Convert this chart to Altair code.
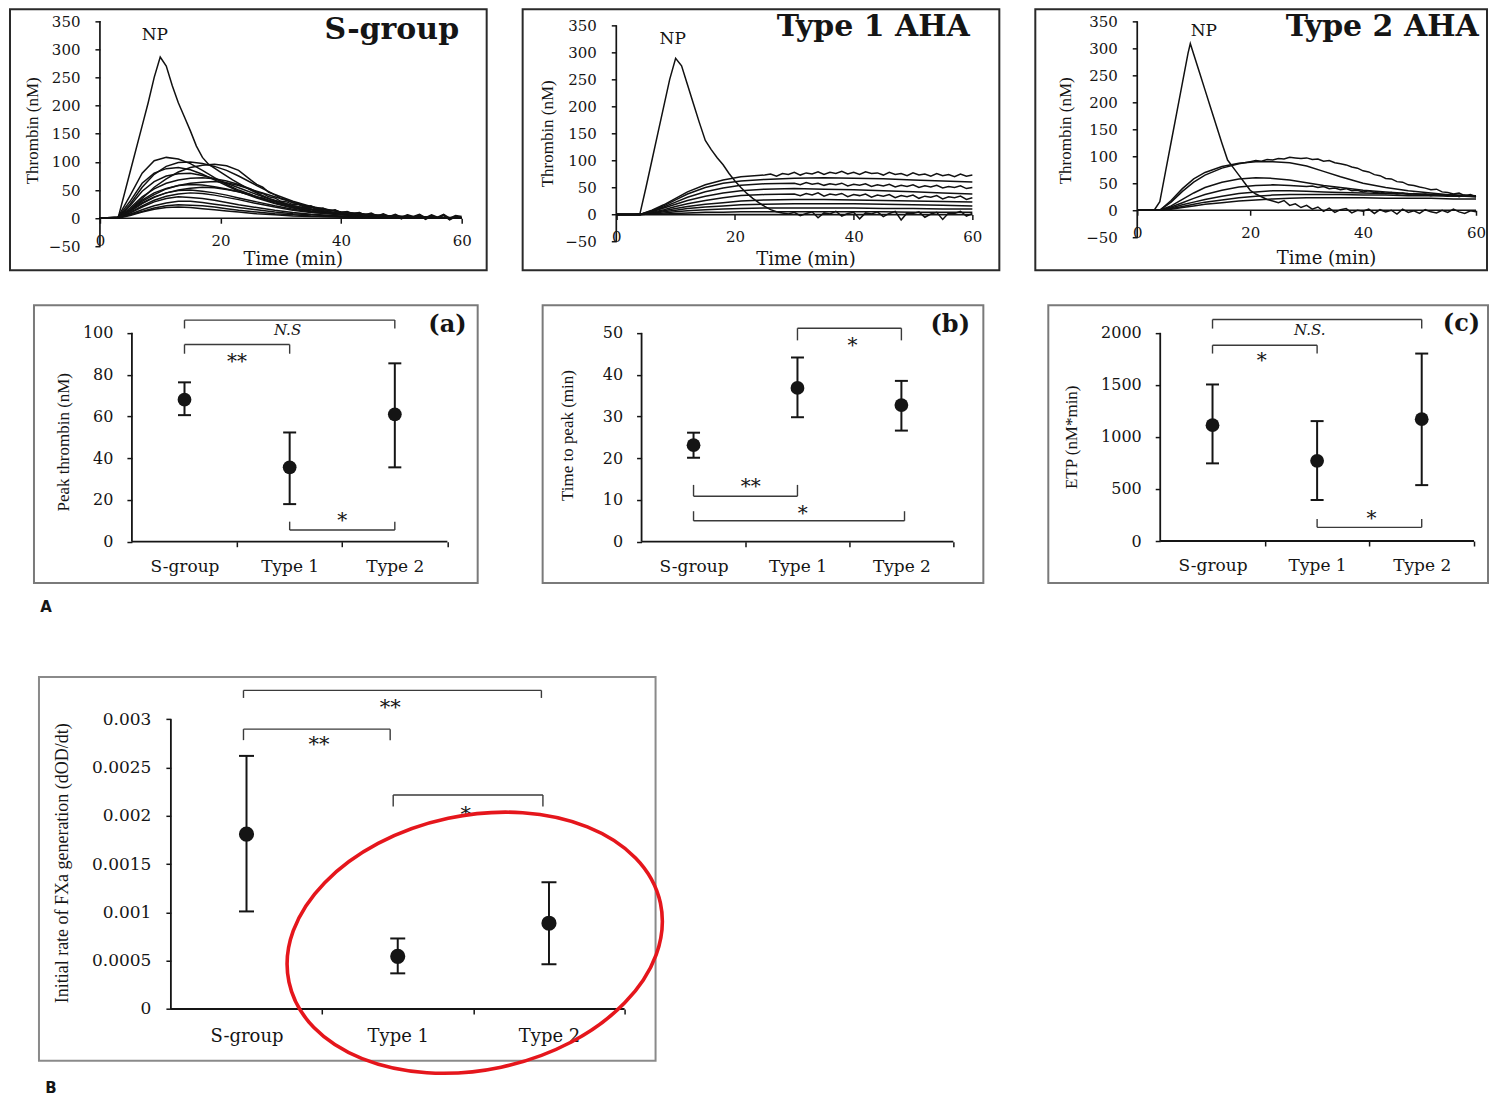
import altair as alt
import pandas as pd

SERIF = "DejaVu Serif"
TIMES = "Liberation Serif"
SANS = "DejaVu Sans"
INK = "#151515"

# ============================================================ DATA
# ---- thrombin generation curves: time (min) -> thrombin (nM) ----
# S-group
S_NP_T = [0, 3, 5, 7, 8, 9, 10, 11, 12, 13, 14, 15, 16, 17, 18, 20, 22, 25, 28, 32, 36, 40, 45, 50, 55, 60]
S_NP_V = [0, 0, 82, 164, 205, 250, 286, 270, 235, 205, 180, 155, 128, 108, 96, 82, 68, 50, 35, 22, 14, 8, 5, 3, 2, 1]
S_GRID_T = [0, 3, 5, 7, 9, 11, 13, 15, 17, 19, 21, 23, 26, 29, 32, 35, 40, 45, 50, 55, 60]
S_GRID_V = [
    [0, 2, 40, 80, 102, 108, 105, 97, 85, 72, 60, 50, 38, 27, 19, 13, 7, 4, 2, 1, 0],
    [0, 1, 25, 55, 78, 92, 99, 100, 97, 92, 85, 75, 58, 42, 30, 21, 11, 6, 3, 1, 0],
    [0, 2, 30, 62, 80, 88, 90, 86, 78, 68, 58, 48, 36, 26, 18, 12, 7, 4, 2, 1, 0],
    [0, 1, 22, 48, 65, 75, 79, 80, 76, 70, 62, 54, 42, 31, 22, 15, 8, 4, 2, 1, 0],
    [0, 1, 14, 30, 42, 52, 58, 62, 64, 65, 63, 58, 48, 38, 28, 20, 11, 6, 3, 1, 0],
    [0, 1, 15, 32, 45, 53, 58, 60, 59, 56, 52, 47, 38, 29, 21, 15, 8, 4, 2, 1, 0],
    [0, 1, 12, 27, 38, 45, 49, 50, 48, 45, 41, 36, 29, 22, 16, 11, 6, 3, 2, 1, 0],
    [0, 1, 10, 22, 32, 39, 43, 45, 44, 41, 37, 33, 26, 20, 14, 10, 6, 3, 2, 1, 0],
    [0, 1, 9, 20, 29, 35, 38, 37, 35, 32, 28, 24, 19, 14, 10, 7, 4, 2, 1, 0, 0],
    [0, 1, 7, 15, 22, 27, 30, 30, 28, 25, 22, 19, 15, 11, 8, 6, 3, 2, 1, 0, 0],
    [0, 1, 6, 12, 18, 22, 24, 23, 22, 20, 17, 14, 11, 8, 6, 4, 2, 1, 1, 0, 0],
    [0, 0, 5, 11, 16, 19, 20, 19, 17, 15, 13, 11, 8, 6, 4, 3, 2, 1, 0, 0, 0],
]
S_EARLY_T = [0, 3, 5, 7, 9, 11, 13, 15, 17, 19, 21, 23]
S_TAIL_T = list(range(25, 61))
S_NOISY = [
    ([0, 1, 15, 35, 55, 70, 82, 90, 94, 96, 93, 85],
     [68, 60, 55, 46, 42, 35, 33, 27, 26, 21, 22, 17, 18, 13, 15, 10, 12, 8, 10, 6, 9, 4, 8, 3, 7, 2, 6, 3, 7, 1, 6, 2, 7, 0, 5, 3]),
    ([0, 1, 18, 38, 52, 62, 68, 71, 72, 70, 66, 60],
     [52, 46, 44, 38, 36, 30, 29, 24, 24, 19, 20, 15, 16, 12, 14, 9, 11, 7, 10, 5, 8, 3, 7, 2, 6, 0, 5, 1, 6, -1, 5, 0, 6, -2, 4, 1]),
    ([0, 1, 12, 26, 37, 45, 50, 53, 55, 54, 51, 47],
     [42, 37, 36, 31, 30, 25, 25, 20, 20, 16, 17, 12, 14, 9, 11, 7, 9, 4, 8, 3, 7, 1, 6, 0, 5, -1, 5, 1, 6, -2, 4, 0, 5, -3, 3, 0]),
]

# Type 1 AHA
T1_NP_T = [0, 3, 4, 5, 6, 7, 8, 9, 10, 11, 12, 13, 14, 15, 16, 17, 18, 19, 20, 21, 22, 23, 24, 25, 26, 27]
T1_NP_V = [0, 0, 2, 50, 100, 150, 200, 250, 289, 275, 240, 205, 170, 137, 120, 105, 92, 76, 62, 50, 39, 30, 22, 15, 9, 5]
T1_NP_TAIL_T = list(range(28, 61))
T1_NP_TAIL_V = [3, 1, 4, -2, 2, 5, -6, 3, 1, 6, -3, 2, 4, -8, 3, 1, 5, -4, 2, 6, -10, 3, 2, 5, -5, 1, 4, -9, 3, 2, 6, -3, 2]
T1_GRID_T = [0, 4, 6, 8, 10, 12, 15, 18, 21, 25, 30, 35, 40, 45, 50, 55, 60]
T1_GRID_V = [
    [0, 0, 7, 16, 27, 38, 50, 58, 62, 65, 67, 68, 67, 66, 64, 62, 60],
    [0, 0, 5, 12, 19, 26, 34, 40, 44, 47, 48, 47, 46, 44, 42, 40, 38],
    [0, 0, 3, 7, 11, 15, 19, 22, 25, 27, 28, 28, 27, 26, 25, 24, 23],
    [0, 0, 2, 5, 8, 11, 14, 16, 18, 19, 20, 20, 20, 19, 18, 17, 16],
    [0, 0, 1, 3, 5, 7, 9, 10, 11, 12, 12, 12, 12, 11, 11, 10, 10],
    [0, 0, 1, 1, 2, 3, 4, 4, 5, 5, 5, 5, 5, 5, 4, 4, 4],
]
T1_TOP_T = [0, 4, 6, 8, 10, 12, 15, 18, 21] + list(range(25, 61))
T1_TOP_V = [0, 0, 8, 18, 30, 42, 55, 64, 70,
            73, 75, 71, 76, 74, 78, 73, 77, 75, 79, 74, 78, 76, 80, 75, 78, 74, 79, 76, 77, 73, 78, 74, 76, 72, 77, 73, 75, 71, 76, 72, 74, 70, 75, 71, 73]
T1_MID_T = [0, 4, 6, 8, 10, 12, 15, 18, 21, 25] + list(range(30, 61))
T1_MID_V = [
    [0, 0, 6, 14, 23, 32, 42, 49, 54, 57,
     58, 55, 59, 56, 58, 54, 57, 55, 58, 53, 56, 54, 57, 52, 55, 53, 56, 51, 54, 52, 55, 50, 53, 51, 54, 49, 52, 50, 53, 48, 50],
    [0, 0, 4, 9, 15, 20, 26, 31, 35, 37,
     38, 35, 39, 36, 40, 34, 38, 36, 39, 33, 37, 35, 38, 32, 36, 34, 37, 31, 35, 33, 36, 30, 34, 32, 35, 29, 33, 31, 34, 28, 31],
]

# Type 2 AHA
T2_NP_T = [0, 3, 4, 5, 6, 7, 8, 9, 9.4, 10, 11, 12, 13, 14, 15, 16, 17, 18, 19, 20, 21, 22, 23, 24] + list(range(25, 61))
T2_NP_V = [0, 0, 16, 71, 126, 181, 236, 291, 309, 289, 256, 223, 190, 157, 124, 93, 79, 65, 51, 37, 30, 25, 20, 17,
           14, 18, 9, 12, 5, 9, 2, 6, -2, 4, -4, 1, 3, -5, 0, -2, 2, -6, 1, -3, 0, -7, 2, -4, -1, -6, 1, -3, -5, 0, -4, 2, -3, -6, -1, -3]
T2_GRID_T = [0, 4, 6, 8, 10, 12, 15, 18, 21, 24, 27, 30, 33, 36, 40, 44, 48, 52, 56, 60]
T2_GRID_V = [
    [0, 0, 18, 40, 58, 70, 81, 87, 90, 90, 88, 82, 72, 62, 50, 42, 36, 32, 28, 25],
    [0, 0, 8, 20, 32, 42, 52, 58, 60, 59, 56, 51, 46, 42, 37, 34, 31, 29, 27, 25],
    [0, 0, 4, 10, 15, 20, 26, 31, 34, 36, 36, 35, 34, 33, 32, 31, 30, 29, 28, 27],
    [0, 0, 3, 7, 11, 15, 19, 23, 26, 28, 29, 29, 29, 29, 28, 28, 27, 27, 26, 26],
    [0, 0, 2, 5, 8, 11, 14, 17, 19, 21, 22, 23, 23, 23, 23, 22, 22, 22, 21, 21],
]
T2_HIGH_T = [0, 4, 6, 8, 10, 12, 15, 18] + list(range(20, 61))
T2_HIGH_V = [0, 0, 15, 35, 52, 65, 78, 86,
             90, 92, 91, 94, 93, 96, 95, 98, 97, 96, 97, 94, 95, 91, 92, 88, 86, 84, 80, 78, 73, 71, 66, 64, 59, 58,
             53, 52, 47, 46, 43, 41, 38, 39, 34, 33, 30, 32, 27, 29, 25]
T2_MID_T = [0, 4, 6, 8, 10, 12, 15, 18, 21, 24, 27] + list(range(30, 61))
T2_MID_V = [0, 0, 6, 14, 22, 29, 37, 43, 46, 47, 46,
            44, 45, 42, 44, 40, 41, 38, 40, 36, 37, 34, 36, 33, 34, 31, 33, 30, 32, 29, 31, 28, 30, 27, 29, 28, 26, 29, 25, 28, 26, 27]

TIME_TICKS = [0, 20, 40, 60]
THROMBIN_TICKS = [-50, 0, 50, 100, 150, 200, 250, 300, 350]
TOP_TITLES = ["S-group", "Type 1 AHA", "Type 2 AHA"]
TOP_TITLE_POS = [(48.4, 333.5), (43.3, 346.3), (26.3, 338.9)]
NP_LABEL = "NP"
NP_POS = [(9.1, 324.6), (9.5, 325.4), (11.8, 331.5)]

# ---- summary panels: mean with error bars ----
GROUPS = ["S-group", "Type 1", "Type 2"]
GROUP_POS = [1, 2, 3]

PEAK_MEAN = [68.0, 35.6, 61.0]
PEAK_LO = [60.6, 18.0, 35.6]
PEAK_HI = [76.3, 52.3, 85.4]
TTP_MEAN = [23.1, 36.8, 32.7]
TTP_LO = [20.1, 29.8, 26.6]
TTP_HI = [26.1, 44.1, 38.5]
ETP_MEAN = [1113, 771, 1171]
ETP_LO = [746, 394, 537]
ETP_HI = [1504, 1152, 1801]
FXA_MEAN = [0.00181, 0.000545, 0.000888]
FXA_LO = [0.00101, 0.000369, 0.000464]
FXA_HI = [0.00262, 0.00073, 0.001312]

# brackets: (from, to, level of bar, level of end ticks)
PEAK_BRACKETS = [(1.0, 3.0, 106.1, 102.1), (1.0, 2.0, 94.4, 90.0), (2.0, 3.0, 5.6, 9.6)]
PEAK_MARKS = [(1.98, 101.3, "N.S"), (1.50, 87.8, "**"), (2.50, 12.0, "*")]
TTP_BRACKETS = [(2.0, 3.0, 51.1, 48.2), (1.0, 2.0, 10.9, 13.6), (1.0, 3.03, 5.0, 7.3)]
TTP_MARKS = [(2.53, 47.8, "*"), (1.55, 14.0, "**"), (2.05, 7.6, "*")]
ETP_BRACKETS = [(1.0, 3.0, 2128, 2041), (1.0, 2.0, 1881, 1801), (2.0, 3.0, 131, 211)]
ETP_MARKS = [(1.93, 2025, "N.S."), (1.47, 1769, "*"), (2.52, 250, "*")]
FXA_BRACKETS = [(0.98, 2.95, 0.003298, 0.003220), (0.98, 1.95, 0.002897, 0.002783), (1.97, 2.96, 0.002215, 0.002097)]
FXA_MARKS = [(1.95, 0.003155, "**"), (1.48, 0.002776, "**"), (2.45, 0.002051, "*")]

PEAK_TICKS = [0, 20, 40, 60, 80, 100]
TTP_TICKS = [0, 10, 20, 30, 40, 50]
ETP_TICKS = [0, 500, 1000, 1500, 2000]
FXA_TICKS = [0, 0.0005, 0.001, 0.0015, 0.002, 0.0025, 0.003]

PANEL_TAGS = ["(a)", "(b)", "(c)"]
PANEL_TAG_POS = [(3.5, 103.7), (3.47, 51.8), (3.38, 2089)]
FIG_LETTERS = ["A", "B"]
FIG_LETTER_POS = [(-0.317, -31.2), (-0.293, -0.00082)]
HIGHLIGHT = {"x": [2.509], "y": [0.000686]}

# ============================================================ LAYOUT (page pixels)
TOP_LAYOUT = [
    dict(box=(10, 9, 487, 270), xa=(100, 0, 462, 60), ya=(218, 0, 20.7, 350), xtitle=(293, 259), ytitle=(33, 130)),
    dict(box=(523, 9, 1000, 270), xa=(616.7, 0, 973, 60), ya=(214.3, 0, 25, 350), xtitle=(806, 259), ytitle=(548, 133)),
    dict(box=(1036, 9, 1488, 270), xa=(1138, 0, 1477, 60), ya=(210, 0, 21, 350), xtitle=(1327, 258), ytitle=(1066, 130)),
]
MID_LAYOUT = [
    dict(box=(33, 305, 477, 583), xa=(131, 0.5, 446.7, 3.5), ya=(541.7, 0, 332.7, 100), ytitle=(63, 441.7)),
    dict(box=(542, 305, 983, 583), xa=(641, 0.5, 953, 3.5), ya=(541.7, 0, 332.7, 50), ytitle=(566.7, 435)),
    dict(box=(1048, 305, 1488, 583), xa=(1160, 0.5, 1474, 3.5), ya=(541, 0, 332.7, 2000), ytitle=(1071.7, 436.7)),
]
B_LAYOUT = dict(box=(38, 676, 655, 1060), xa=(170, 0.5, 624, 3.5), ya=(1008.3, 0, 718.3, 0.003), ytitle=(62, 862))
ROW_GAPS = (33, 60)          # vertical gaps between panel rows (bounds to bounds)
ELLIPSE = ("M -1 0 C -1 -0.37 -0.552 -0.67 0 -0.67 C 0.552 -0.67 1 -0.37 1 0 "
           "C 1 0.37 0.552 0.67 0 0.67 C -0.552 0.67 -1 0.37 -1 0 Z")


# ============================================================ helpers
def lin_domain(lo_px, hi_px, p1, v1, p2, v2):
    k = (v2 - v1) / (p2 - p1)
    return [v1 + (lo_px - p1) * k, v1 + (hi_px - p1) * k]


def encoders(lay, xaxis, yaxis):
    L, T, R, B = lay["box"]
    xs = alt.Scale(domain=lin_domain(L, R, *lay["xa"]), nice=False, zero=False)
    ys = alt.Scale(domain=lin_domain(B, T, *lay["ya"]), nice=False, zero=False)

    def X(f):
        return alt.X(f + ":Q", scale=xs, axis=xaxis)

    def Y(f):
        return alt.Y(f + ":Q", scale=ys, axis=yaxis)
    return X, Y


def y_axis(lay, values, title, size, pad, fmt, title_size=17):
    L, T, R, B = lay["box"]
    ax = lay["xa"][0]
    return alt.Axis(values=values, orient="left", offset=-(ax - L), domain=False, grid=False,
                    ticks=True, tickSize=5, tickWidth=1.5, tickColor=INK,
                    labelFont=SERIF, labelFontSize=size, labelColor=INK, labelPadding=pad,
                    labelFlush=False, labelOverlap=False, format=fmt,
                    title=title, titleFont=TIMES, titleFontSize=title_size, titleFontWeight="normal",
                    titleColor=INK, titleAngle=270, titleAlign="center", titleBaseline="middle",
                    titleX=lay["ytitle"][0] - ax, titleY=lay["ytitle"][1] - T)


def x_axis_time(lay):
    L, T, R, B = lay["box"]
    zy = lay["ya"][0]
    return alt.Axis(values=TIME_TICKS, format="d", orient="bottom", offset=-(B - zy), domain=False,
                    grid=False, ticks=True, tickSize=5, tickWidth=1.5, tickColor=INK,
                    labelFont=SERIF, labelFontSize=15, labelColor=INK, labelPadding=10,
                    labelFlush=False, labelOverlap=False,
                    title="Time (min)", titleFont=SERIF, titleFontSize=18, titleFontWeight="normal",
                    titleColor=INK, titleAlign="center", titleBaseline="middle",
                    titleX=lay["xtitle"][0] - L, titleY=lay["xtitle"][1] - zy)


def x_axis_groups(lay, size, pad):
    L, T, R, B = lay["box"]
    zy = lay["ya"][0]
    half = (lay["xa"][2] - lay["xa"][0]) / 6.0
    expr = ("datum.value < 2 ? '%s' : datum.value < 3 ? '%s' : '%s'" % tuple(GROUPS))
    return alt.Axis(values=[1.5, 2.5, 3.5], orient="bottom", offset=-(B - zy), domain=False, grid=False,
                    ticks=True, tickSize=5, tickWidth=1.5, tickColor=INK,
                    labelExpr=expr, labelOffset=-half, labelFont=SERIF, labelFontSize=size,
                    labelColor=INK, labelPadding=pad, labelFlush=False, labelOverlap=False, title="")


def curves_frame(items):
    rows = []
    for i, (ts, vs) in enumerate(items):
        assert len(ts) == len(vs), (i, len(ts), len(vs))
        for t, v in zip(ts, vs):
            rows.append({"x": t, "y": v, "id": i})
    return pd.DataFrame(rows)


def top_panel(i, items):
    lay = TOP_LAYOUT[i]
    L, T, R, B = lay["box"]
    X, Y = encoders(lay, x_axis_time(lay), y_axis(lay, THROMBIN_TICKS, "Thrombin (nM)", 15, 15, "d"))
    axis_lines = pd.DataFrame({"x": [TIME_TICKS[0], TIME_TICKS[0]], "x2": [TIME_TICKS[-1], TIME_TICKS[0]],
                               "y": [0, THROMBIN_TICKS[0]], "y2": [0, THROMBIN_TICKS[-1]]})
    rules = alt.Chart(axis_lines).mark_rule(color=INK, strokeWidth=1.7).encode(
        x=X("x"), x2="x2:Q", y=Y("y"), y2="y2:Q")
    lines = alt.Chart(curves_frame(items)).mark_line(color="#111111", strokeWidth=1.5, clip=True).encode(
        x=X("x"), y=Y("y"), detail="id:N")
    tx, ty = TOP_TITLE_POS[i]
    title = alt.Chart(pd.DataFrame({"x": [tx], "y": [ty], "label": [TOP_TITLES[i]]})).mark_text(
        font=SERIF, fontSize=30, fontWeight="bold", color=INK, align="left" if i == 2 else "center",
        baseline="middle", clip=True).encode(x=X("x"), y=Y("y"), text="label:N")
    nx, ny = NP_POS[i]
    np_t = alt.Chart(pd.DataFrame({"x": [nx], "y": [ny], "label": [NP_LABEL]})).mark_text(
        font=SERIF, fontSize=17, color=INK, align="center", baseline="middle").encode(
        x=X("x"), y=Y("y"), text="label:N")
    return alt.layer(rules, lines, title, np_t).properties(
        width=R - L, height=B - T, view=alt.ViewBackground(stroke="#2a2a2a", strokeWidth=2))


def stat_panel(lay, means, lo, hi, brackets, marks, ytitle, yticks, fmt, extra, s):
    L, T, R, B = lay["box"]
    X, Y = encoders(lay, x_axis_groups(lay, s["xfont"], s["xpad"]),
                    y_axis(lay, yticks, ytitle, s["yfont"], s["ypad"], fmt, s["tfont"]))
    axis_lines = pd.DataFrame({"x": [0.5, 0.5], "x2": [3.5, 0.5], "y": [0, 0], "y2": [0, yticks[-1]]})
    rules = alt.Chart(axis_lines).mark_rule(color=INK, strokeWidth=1.8).encode(
        x=X("x"), x2="x2:Q", y=Y("y"), y2="y2:Q")
    stats = pd.DataFrame({"x": GROUP_POS, "y": means, "lo": lo, "hi": hi})
    bars = alt.Chart(stats).mark_rule(color=INK, strokeWidth=2).encode(x=X("x"), y=Y("lo"), y2="hi:Q")
    caps = alt.Chart(pd.DataFrame({"x": GROUP_POS * 2, "y": lo + hi})).mark_tick(
        orient="horizontal", size=s["cap"], thickness=2, color=INK, opacity=1).encode(x=X("x"), y=Y("y"))
    pts = alt.Chart(stats).mark_circle(size=s["pt"], color=INK, opacity=1).encode(x=X("x"), y=Y("y"))
    segs = []
    for a, b, yl, ye in brackets:
        segs += [{"x": a, "x2": b, "y": yl, "y2": yl},
                 {"x": a, "x2": a, "y": yl, "y2": ye},
                 {"x": b, "x2": b, "y": yl, "y2": ye}]
    br = alt.Chart(pd.DataFrame(segs)).mark_rule(color="#3a3a3a", strokeWidth=1.4).encode(
        x=X("x"), x2="x2:Q", y=Y("y"), y2="y2:Q")
    star = pd.DataFrame([{"x": x, "y": y, "label": t} for x, y, t in marks if "*" in t])
    ns = pd.DataFrame([{"x": x, "y": y, "label": t} for x, y, t in marks if "*" not in t])
    layers = [rules, bars, caps, pts, br]
    layers.append(alt.Chart(star).mark_text(font=SERIF, fontSize=s["star"], color=INK, align="center",
                                            baseline="middle", dy=4).encode(x=X("x"), y=Y("y"), text="label:N"))
    if len(ns):
        layers.append(alt.Chart(ns).mark_text(font=SERIF, fontSize=15, fontStyle="italic", color=INK,
                                              align="center", baseline="middle").encode(
            x=X("x"), y=Y("y"), text="label:N"))
    for text, (x, y), style in extra:
        layers.append(alt.Chart(pd.DataFrame({"x": [x], "y": [y], "label": [text]})).mark_text(
            align="center", baseline="middle", color=INK, **style).encode(x=X("x"), y=Y("y"), text="label:N"))
    return X, Y, layers, (R - L, B - T)


# ============================================================ build
top_items = [
    [(S_NP_T, S_NP_V)] + [(S_GRID_T, v) for v in S_GRID_V] + [(S_EARLY_T + S_TAIL_T, e + t) for e, t in S_NOISY],
    [(T1_NP_T + T1_NP_TAIL_T, T1_NP_V + T1_NP_TAIL_V)] + [(T1_GRID_T, v) for v in T1_GRID_V]
    + [(T1_TOP_T, T1_TOP_V)] + [(T1_MID_T, v) for v in T1_MID_V],
    [(T2_NP_T, T2_NP_V)] + [(T2_GRID_T, v) for v in T2_GRID_V] + [(T2_HIGH_T, T2_HIGH_V), (T2_MID_T, T2_MID_V)],
]
top = [top_panel(i, top_items[i]) for i in range(3)]

mid_style = dict(xfont=17, xpad=12, yfont=16, ypad=14, tfont=17, cap=13, pt=190, star=20)
tag_style = dict(font=SERIF, fontSize=24, fontWeight="bold")
letter_style = dict(font=SANS, fontSize=15, fontWeight="bold")
mid_specs = [
    (PEAK_MEAN, PEAK_LO, PEAK_HI, PEAK_BRACKETS, PEAK_MARKS, "Peak thrombin (nM)", PEAK_TICKS, "d"),
    (TTP_MEAN, TTP_LO, TTP_HI, TTP_BRACKETS, TTP_MARKS, "Time to peak (min)", TTP_TICKS, "d"),
    (ETP_MEAN, ETP_LO, ETP_HI, ETP_BRACKETS, ETP_MARKS, "ETP (nM*min)", ETP_TICKS, "d"),
]
mid = []
for i, spec in enumerate(mid_specs):
    extra = [(PANEL_TAGS[i], PANEL_TAG_POS[i], tag_style)]
    if i == 0:
        extra.append((FIG_LETTERS[0], FIG_LETTER_POS[0], letter_style))
    X, Y, layers, (w, h) = stat_panel(MID_LAYOUT[i], *spec, extra, mid_style)
    mid.append(alt.layer(*layers).properties(width=w, height=h,
                                             view=alt.ViewBackground(stroke="#7a7a7a", strokeWidth=2)))

b_style = dict(xfont=18, xpad=14, yfont=17, ypad=15, tfont=18, cap=15, pt=230, star=21)
X, Y, layers, (w, h) = stat_panel(B_LAYOUT, FXA_MEAN, FXA_LO, FXA_HI, FXA_BRACKETS, FXA_MARKS,
                                  "Initial rate of FXa generation (dOD/dt)", FXA_TICKS, "~g",
                                  [(FIG_LETTERS[1], FIG_LETTER_POS[1], letter_style)], b_style)
ring = alt.Chart(pd.DataFrame(HIGHLIGHT)).mark_point(
    shape=ELLIPSE, filled=False, color="#e5161c", strokeWidth=3.6, size=144400, angle=348, opacity=1
).encode(x=X("x"), y=Y("y"))
panel_b = alt.layer(*layers, ring).properties(width=w, height=h,
                                              view=alt.ViewBackground(stroke="#8a8a8a", strokeWidth=2))


def spacer(wd):
    return alt.Chart(pd.DataFrame({"x": [0]})).mark_text(text="", align="left", baseline="top").encode(
        x=alt.value(0), y=alt.value(0)).properties(
        width=wd, height=10, view=alt.ViewBackground(stroke="transparent", strokeWidth=0))


row1 = alt.hconcat(*top, spacing=TOP_LAYOUT[1]["box"][0] - TOP_LAYOUT[0]["box"][2] - 2)
row2 = alt.hconcat(spacer(MID_LAYOUT[0]["box"][0] - TOP_LAYOUT[0]["box"][0]),
                   alt.hconcat(*mid, spacing=MID_LAYOUT[1]["box"][0] - MID_LAYOUT[0]["box"][2] - 2),
                   spacing=0)
row3 = alt.hconcat(spacer(B_LAYOUT["box"][0] - TOP_LAYOUT[0]["box"][0]), panel_b, spacing=0)

chart = alt.vconcat(row1, alt.vconcat(row2, row3, spacing=ROW_GAPS[1]), spacing=ROW_GAPS[0])
chart = chart.properties(padding={"left": 1, "top": 0, "right": 0, "bottom": 0}).configure_view(
    stroke="transparent")

chart.save("out.html", embed_options={"renderer": "svg", "actions": False})
